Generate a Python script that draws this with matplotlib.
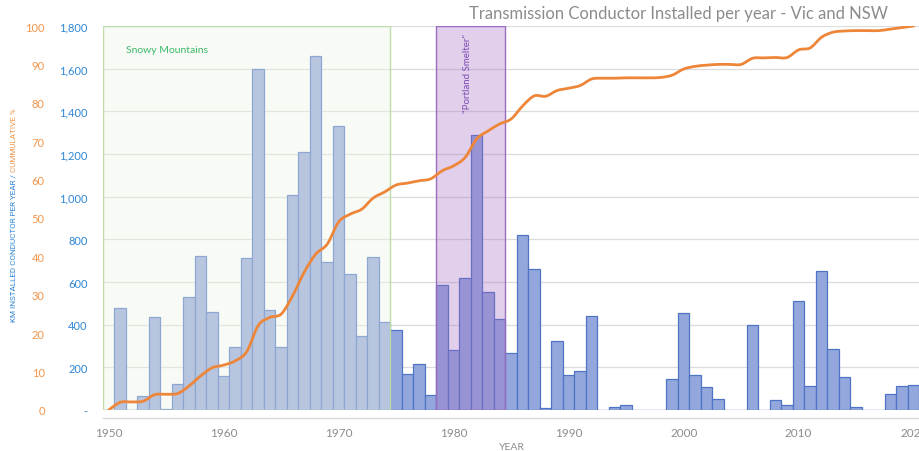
import numpy as np
import matplotlib
matplotlib.use("Agg")
import matplotlib.pyplot as plt
from matplotlib.path import Path
from matplotlib.patches import PathPatch, Rectangle
from matplotlib.ticker import FuncFormatter, MultipleLocator

plt.rcParams["font.family"] = ["Lato", "DejaVu Sans"]

# ---- data ----
years = np.arange(1950, 2021)
km_per_year = [
    0, 480, 0, 65, 435, 5, 120, 530, 720, 458,
    160, 295, 714, 1600, 470, 295, 1010, 1208, 1661, 692,
    1333, 637, 348, 716, 411, 375, 167, 214, 69, 584,
    281, 618, 1290, 555, 425, 266, 820, 659, 8, 325,
    164, 183, 439, 0, 12, 22, 0, 2, 2, 144,
    453, 163, 106, 52, 0, 2, 398, 2, 45, 22,
    509, 111, 652, 288, 156, 12, 0, 2, 75, 111,
    116,
]
cumulative_pct = [
    0, 2.0, 2.1, 2.3, 4.0, 4.1, 4.3, 6.3, 8.9, 11.0,
    11.7, 12.8, 15.2, 22.0, 24.1, 25.0, 29.8, 35.9, 40.6, 43.2,
    49.0, 51.0, 52.3, 55.2, 56.8, 58.6, 59.1, 59.7, 60.2, 62.3,
    63.6, 65.8, 70.6, 72.7, 74.5, 75.8, 79.2, 81.8, 81.7, 83.2,
    83.8, 84.5, 86.2, 86.4, 86.4, 86.5, 86.5, 86.5, 86.6, 87.2,
    88.8, 89.5, 89.8, 90.0, 90.0, 90.0, 91.6, 91.7, 91.8, 91.8,
    93.8, 94.3, 97.1, 98.4, 98.7, 98.8, 98.8, 98.8, 99.2, 99.6,
    100.0,
]
snowy_span = (1949.5, 1974.5)
portland_span = (1978.5, 1984.5)

BLUE_TXT = "#2F86D6"
ORANGE_TXT = "#F2954A"
GRAY = "#8C8C8C"


def smooth_path(x, y):
    """Excel-style smoothed line as a cubic bezier path (catmull-rom)."""
    pts = np.column_stack([x, y]).astype(float)
    verts = [pts[0]]
    codes = [Path.MOVETO]
    n = len(pts)
    for i in range(n - 1):
        p0 = pts[i - 1] if i > 0 else pts[i]
        p1, p2 = pts[i], pts[i + 1]
        p3 = pts[i + 2] if i + 2 < n else pts[i + 1]
        verts += [p1 + (p2 - p0) / 6, p2 - (p3 - p1) / 6, p2]
        codes += [Path.CURVE4] * 3
    return Path(verts, codes)


fig = plt.figure(figsize=(9.2, 4.52), dpi=100)
ax = fig.add_axes([103 / 920, 1 - 411 / 452, 817 / 920, 384 / 452])

ax.bar(years, km_per_year, width=1.0, color="#93A7DC", edgecolor="#4F74C6",
       linewidth=0.9, zorder=2)

# shaded periods drawn over the bars
ax.add_patch(Rectangle((snowy_span[0], 0), snowy_span[1] - snowy_span[0], 1800,
                       facecolor="#EEF3E6", alpha=0.4, edgecolor="none", zorder=3))
ax.add_patch(Rectangle((snowy_span[0], 0), snowy_span[1] - snowy_span[0], 1800,
                       facecolor="none", edgecolor="#BFDDA8", linewidth=1.0, zorder=3))
ax.add_patch(Rectangle((portland_span[0], 0), portland_span[1] - portland_span[0], 1800,
                       facecolor="#A36AC2", alpha=0.32, edgecolor="none", zorder=3))
ax.add_patch(Rectangle((portland_span[0], 0), portland_span[1] - portland_span[0], 1800,
                       facecolor="none", edgecolor="#9A6CC0", linewidth=1.0, zorder=3))

ax.text(1951.5, 1692, "Snowy Mountains", color="#3DB86A", fontsize=7.5,
        va="center", ha="left", zorder=4)
ax.text(1981.2, 1580, '"Portland Smelter"', color="#7B4BB5", fontsize=7,
        rotation=90, va="center", ha="center", zorder=4)

ax.set_xlim(1949.5, 2020.55)
ax.set_ylim(0, 1800)
ax.yaxis.set_major_locator(MultipleLocator(200))
ax.yaxis.set_major_formatter(FuncFormatter(lambda v, p: "-" if v == 0 else f"{v:,.0f}"))
ax.grid(axis="y", color="#DCDCDC", linewidth=0.9, zorder=0)
ax.set_axisbelow(True)
for s in ax.spines.values():
    s.set_visible(False)
ax.tick_params(axis="y", length=0, pad=11, labelsize=8, labelcolor=BLUE_TXT)
ax.set_xticks(range(1950, 2030, 10))
ax.tick_params(axis="x", length=0, pad=12, labelsize=8.5, labelcolor=GRAY)
ax.plot([0, 1], [-0.021, -0.021], transform=ax.transAxes, color="#D9D9D9",
        linewidth=1.0, clip_on=False)
ax.set_xlabel("YEAR", fontsize=7.5, color=GRAY, labelpad=3)

# cumulative % on a second scale, labels also on the left
ax2 = ax.twinx()
ax2.add_patch(PathPatch(smooth_path(years, cumulative_pct), facecolor="none",
                        edgecolor="#EE8639", linewidth=2.0, capstyle="round"))
ax2.set_ylim(0, 100)
ax2.set_xlim(ax.get_xlim())
ax2.yaxis.set_major_locator(MultipleLocator(10))
ax2.yaxis.tick_left()
ax2.tick_params(axis="y", length=0, pad=42, labelsize=8, labelcolor=ORANGE_TXT)
for s in ax2.spines.values():
    s.set_visible(False)

fig.text(679 / 920, 1 - 14 / 452, "Transmission Conductor Installed per year - Vic and NSW",
         ha="center", va="center", fontsize=12, color=GRAY)

# two-colour axis title
t1 = fig.text(14 / 920, 1 - 322 / 452, "KM INSTALLED CONDUCTOR PER YEAR / ",
              rotation=90, ha="center", va="bottom", fontsize=5.9,
              color=BLUE_TXT, family=["Roboto", "DejaVu Sans"])
fig.canvas.draw()
bb = t1.get_window_extent()
fig.text(14 / 920, bb.y1 / fig.bbox.height, "CUMMULATIVE %",
         rotation=90, ha="center", va="bottom", fontsize=5.9,
         color=ORANGE_TXT, family=["Roboto", "DejaVu Sans"])

fig.savefig("out.png", dpi=100)
